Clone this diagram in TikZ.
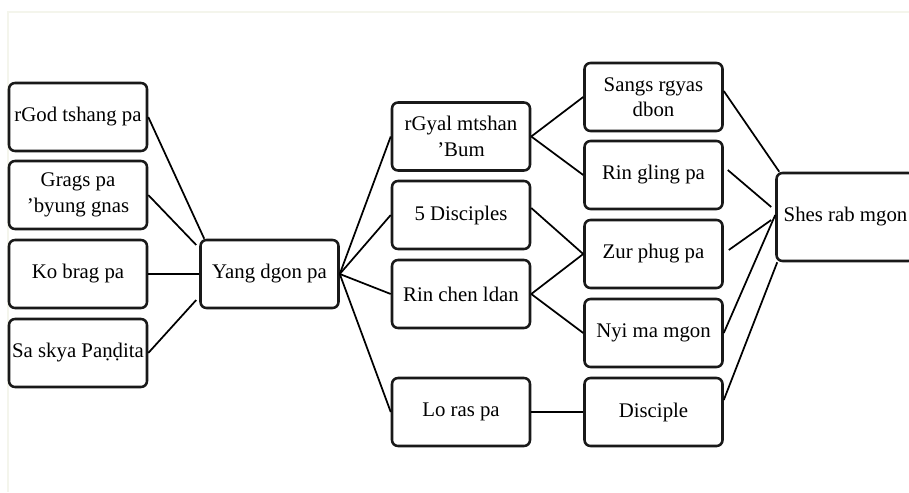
\documentclass[tikz,border=0pt]{standalone}
\usepackage{fontspec}
\setmainfont{Liberation Serif}
\begin{document}
\begin{tikzpicture}[x=0.75pt,y=-0.75pt,
  box/.style={draw=black!90, line width=1.9pt, rounded corners=4.5pt, fill=white,
    minimum width=103.5pt, minimum height=51pt, align=center, inner sep=1pt,
    font=\fontsize{15.6}{19}\selectfont},
  link/.style={draw=black, line width=1.3pt}]
\clip (0,0) rectangle (909,492);
\fill[white] (0,0) rectangle (909,492);
\draw[color={rgb,255:red,244;green,245;blue,236}, line width=1pt] (8,492) -- (8,12) -- (909,12);
% left column
\node[box] (rg) at (78,117) {rGod tshang pa};
\node[box] (gp) at (78,195) {Grags pa\\'byung gnas};
\node[box] (kb) at (78,274) {Ko brag pa};
\node[box] (sp) at (78,353) {Sa skya Paṇḍita};
% centre
\node[box] (y) at (269.5,274) {Yang dgon pa};
% middle column
\node[box] (gm) at (461,136.5) {rGyal mtshan\\'Bum};
\node[box] (fd) at (461,215) {5 Disciples};
\node[box] (rc) at (461,294) {Rin chen ldan};
\node[box] (lr) at (461,412) {Lo ras pa};
% right column
\node[box] (sd) at (653.5,97) {Sangs rgyas\\dbon};
\node[box] (rl) at (653.5,175) {Rin gling pa};
\node[box] (zp) at (653.5,254) {Zur phug pa};
\node[box] (nm) at (653.5,333) {Nyi ma mgon};
\node[box] (di) at (653.5,412) {Disciple};
% final
\node[box, minimum height=66pt] (sh) at (845.5,217) {Shes rab mgon};
% connectors left
\draw[link] (rg.east) -- ([shift={(5,0)}]y.north west);
\draw[link] (gp.east) -- ([shift={(-3,-29)}]y.west);
\draw[link] (kb.east) -- (y.west);
\draw[link] (sp.east) -- ([shift={(-3,26)}]y.west);
% connectors middle
\draw[link] (y.east) -- (gm.west);
\draw[link] (y.east) -- (fd.west);
\draw[link] (y.east) -- (rc.west);
\draw[link] (y.east) -- (lr.west);
\draw[link] (gm.east) -- (sd.west);
\draw[link] (gm.east) -- (rl.west);
\draw[link] ([shift={(0,-7)}]fd.east) -- (zp.west);
\draw[link] (rc.east) -- (zp.west);
\draw[link] (rc.east) -- (nm.west);
\draw[link] (lr.east) -- (di.west);
% connectors right
\draw[link] ([shift={(0,-6)}]sd.east) -- ([shift={(4,0)}]sh.north west);
\draw[link] ([shift={(4,-5)}]rl.east) -- ([shift={(-4,-10)}]sh.west);
\draw[link] ([shift={(5,-4)}]zp.east) -- ([shift={(-4,3)}]sh.west);
\draw[link] (nm.east) -- ([shift={(0,-2)}]sh.west);
\draw[link] ([shift={(0,-12)}]di.east) -- ([shift={(2,0)}]sh.south west);
\end{tikzpicture}
\end{document}
